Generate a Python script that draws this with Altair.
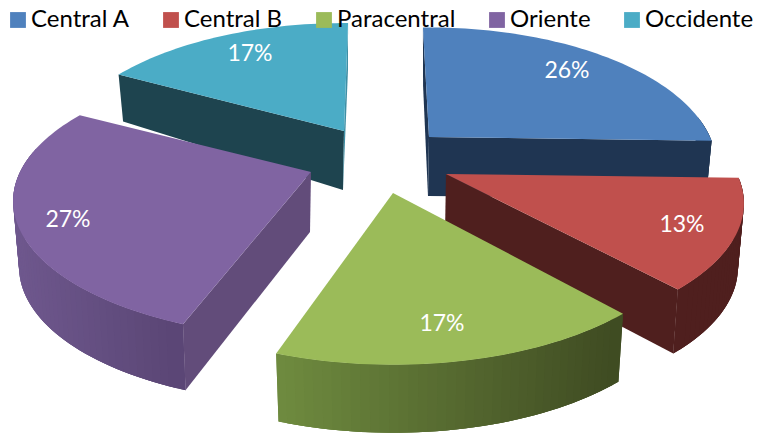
import math
import altair as alt

categories = ["Central A", "Central B", "Paracentral", "Oriente", "Occidente"]
shares = [26, 13, 17, 27, 17]
share_labels = ["26%", "13%", "17%", "27%", "17%"]
top_colors = ["#4f81bd", "#c0504d", "#9bbb59", "#8064a2", "#4bacc6"]

# layout (page pixels)
MARGIN = 8
START_ANGLE = -3.0
start_adjust = [1.5, 1.0, 1.2, 2.0, 2.5]
end_adjust = [1.0, 0.5, 0.0, 3.0, 4.0]
apex_x = [429, 446, 393, 311, 344]
apex_y = [137, 174, 193, 172, 131]
rx = [281, 291, 292, 291, 282]
ry = [133, 131, 135, 130, 131]
persp = 0.214
cut_depth = [59, 60, 60, 60, 59]
rim_depth = [58, 64, 68, 66, 47]
shrink = 0.98
label_x = [567, 682, 442, 68, 250]
label_y = [71, 225, 324, 220, 54]
cut_colors = ["#1f3552", "#4f1f1e", "#3f4b22", "#624c7a", "#1e444f"]
cut_visible = [(True, True), (False, True), (False, False), (True, False), (True, True)]
rim_left = [(0x1f, 0x35, 0x52), (0x4f, 0x1f, 0x1e), (0x70, 0x8d, 0x40), (0x6f, 0x58, 0x8e), (0x3f, 0x8f, 0xa5)]
rim_right = [(0x1f, 0x35, 0x52), (0x4f, 0x1f, 0x1e), (0x3f, 0x4b, 0x22), (0x5a, 0x46, 0x75), (0x3f, 0x8f, 0xa5)]
draw_order = [4, 0, 3, 1, 2]
WALL_COS_LIMIT = 0.15


def rim_point(i, deg):
    t = math.radians(deg)
    u, v = math.sin(t), math.cos(t)
    w = 1 + persp * v
    return rx[i] * u / w, -ry[i] * v / w


def top_xy(i, dx, dy):
    return [apex_x[i] + dx - MARGIN, apex_y[i] + dy - MARGIN]


def bottom_xy(i, dx, dy):
    return [apex_x[i] + dx * shrink - MARGIN, apex_y[i] + dy + rim_depth[i] - MARGIN]


def feature(ring, **props):
    return {
        "type": "Feature",
        "properties": props,
        "geometry": {"type": "Polygon", "coordinates": [ring + [ring[0]]]},
    }


def hexcol(c):
    return "#%02x%02x%02x" % tuple(int(round(x)) for x in c)


tops, sides = [], []
edges = []
a = START_ANGLE
for i, s in enumerate(shares):
    edges.append((a + start_adjust[i], a + s * 3.6 + end_adjust[i]))
    a += s * 3.6

for i in draw_order:
    a0, a1 = edges[i]
    n = max(2, int((a1 - a0) / 1.5))
    degs = [a0 + (a1 - a0) * k / n for k in range(n + 1)]
    pts = [rim_point(i, d) for d in degs]
    apex_t = [apex_x[i] - MARGIN, apex_y[i] - MARGIN]
    apex_b = [apex_x[i] - MARGIN - 1, apex_y[i] + cut_depth[i] - MARGIN]
    xs = [p[0] for p in pts]
    lo, hi = min(xs), max(xs)
    # outer wall, front-facing part only: each strip overlaps the next one so that no seams show
    order = range(n) if rim_left[i] == rim_right[i] else sorted(range(n), key=lambda k: pts[k][0])
    for k in order:
        if math.cos(math.radians(degs[k])) > WALL_COS_LIMIT:
            continue
        p = pts[k]
        q = pts[min(k + 2, n)]
        back = pts[max(k - 1, 0)]
        f = ((pts[k][0] + pts[k + 1][0]) / 2 - lo) / (hi - lo)
        col = hexcol([l + (r - l) * f for l, r in zip(rim_left[i], rim_right[i])])
        sides.append(feature([top_xy(i, *back), top_xy(i, *p), top_xy(i, *q),
                              bottom_xy(i, *q), bottom_xy(i, *p), bottom_xy(i, *back)], fill=col))
    # visible cut faces last, over the wall
    for j, p in enumerate((pts[0], pts[-1])):
        if not cut_visible[i][j]:
            continue
        col = cut_colors[i]
        if (i == 0 and j == 0) or (i == 4 and j == 1):
            col = hexcol(rim_right[i])
        sides.append(feature([apex_t, top_xy(i, *p), bottom_xy(i, *p), apex_b], fill=col))

for i in draw_order:
    a0, a1 = edges[i]
    n = max(2, int((a1 - a0) / 1.5))
    ring = [[apex_x[i] - MARGIN, apex_y[i] - MARGIN]]
    ring += [top_xy(i, *rim_point(i, a0 + (a1 - a0) * k / n)) for k in range(n + 1)]
    tops.append(feature(ring, name=categories[i]))

projection = alt.Projection(type="identity", scale=1, translate=[0, 0])

side_layer = (
    alt.Chart(alt.Data(values=sides))
    .mark_geoshape(strokeWidth=0)
    .encode(fill=alt.Fill("properties.fill:N", scale=None, legend=None))
    .project(**projection.to_dict())
)

top_layer = (
    alt.Chart(alt.Data(values=tops))
    .mark_geoshape(strokeWidth=0)
    .encode(
        fill=alt.Fill(
            "properties.name:N",
            sort=categories,
            scale=alt.Scale(domain=categories, range=top_colors),
            legend=alt.Legend(
                title=None,
                orient="none",
                legendX=-2,
                legendY=0,
                direction="horizontal",
                columns=5,
                symbolType="square",
                symbolSize=250,
                symbolStrokeWidth=0,
                symbolOpacity=1,
                labelFont="Lato",
                labelFontSize=24,
                labelColor="#000000",
                labelLimit=300,
                labelOffset=1,
                columnPadding=29,
                padding=0,
            ),
        )
    )
    .project(**projection.to_dict())
)

label_rows = [
    {"label": t, "x": x - MARGIN, "y": y - MARGIN}
    for t, x, y in zip(share_labels, label_x, label_y)
]
label_layer = (
    alt.Chart(alt.Data(values=label_rows))
    .mark_text(font="Lato", fontSize=23, color="#ffffff", align="center", baseline="middle")
    .encode(
        x=alt.X("x:Q", scale=None, axis=None),
        y=alt.Y("y:Q", scale=None, axis=None),
        text="label:N",
    )
)

chart = (
    alt.layer(side_layer, top_layer, label_layer)
    .resolve_scale(fill="independent")
    .properties(width=746, height=426, padding=0, autosize=alt.AutoSizeParams(type="none"))
    .configure_view(stroke=None)
)

chart.save("out.html", embed_options={"renderer": "svg", "actions": False})
